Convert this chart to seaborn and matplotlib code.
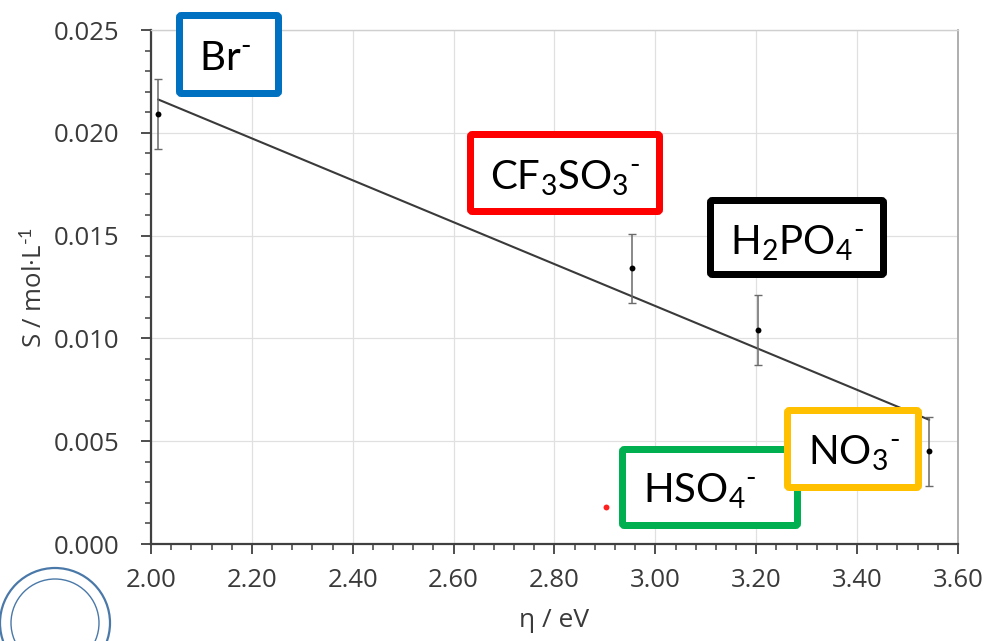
import numpy as np
import pandas as pd
import seaborn as sns
import matplotlib
matplotlib.use("Agg")
import matplotlib.pyplot as plt
from matplotlib.patches import FancyBboxPatch, Circle
from matplotlib.ticker import MultipleLocator, FormatStrFormatter

# Hardness (eV) and solubility (mol/L) of the anion series
anions = ["Br-", "CF3SO3-", "H2PO4-", "NO3-"]
eta = [2.014, 2.954, 3.204, 3.543]
solubility = [0.0209, 0.0134, 0.0104, 0.0045]
sol_err = [0.0017, 0.0017, 0.0017, 0.0017]

# HSO4- point, kept out of the fit
hso4_eta = [2.903]
hso4_sol = [0.0018]

# Box labels: text, edge colour
labels = [
    (r"Br${}^{\text{-}}$", "#0070C0"),
    (r"CF${}_{3}$SO${}_{3}{}^{\text{-}}$", "#FF0000"),
    (r"H${}_{2}$PO${}_{4}{}^{\text{-}}$", "#000000"),
    (r"HSO${}_{4}{}^{\text{-}}$", "#00B050"),
    (r"NO${}_{3}{}^{\text{-}}$", "#FFC000"),
]

df = pd.DataFrame({"eta": eta, "S": solubility, "err": sol_err, "anion": anions})

sns.set_theme(style="white")
plt.rcParams["font.family"] = ["Open Sans", "DejaVu Sans"]
plt.rcParams["mathtext.fontset"] = "custom"
plt.rcParams["mathtext.rm"] = "Lato"
plt.rcParams["mathtext.it"] = "Lato:italic"
plt.rcParams["mathtext.bf"] = "Lato:bold"

W, H = 987, 641
fig = plt.figure(figsize=(W / 100, H / 100), dpi=100)
ax = fig.add_axes([151 / W, (H - 544) / H, (958 - 151) / W, (544 - 30) / H])

# Linear fit through the four anions
sns.regplot(data=df, x="eta", y="S", scatter=False, ci=None, truncate=True,
            line_kws=dict(color="#3a3a3a", lw=1.5, zorder=3), ax=ax)

ax.errorbar(df["eta"], df["S"], yerr=df["err"], fmt="none", ecolor="#6a6a6a",
            elinewidth=1.1, capsize=3, capthick=1.0, zorder=4)
sns.scatterplot(data=df, x="eta", y="S", color="black", s=18, linewidth=0,
                ax=ax, zorder=5)
sns.scatterplot(x=hso4_eta, y=hso4_sol, color="#ff2020", s=18, linewidth=0,
                ax=ax, zorder=5)

ax.set_xlim(2.0, 3.6)
ax.set_ylim(0.0, 0.025)
ax.xaxis.set_major_locator(MultipleLocator(0.2))
ax.xaxis.set_minor_locator(MultipleLocator(0.04))
ax.yaxis.set_major_locator(MultipleLocator(0.005))
ax.yaxis.set_minor_locator(MultipleLocator(0.001))
ax.xaxis.set_major_formatter(FormatStrFormatter("%.2f"))
ax.yaxis.set_major_formatter(FormatStrFormatter("%.3f"))

ax.grid(True, which="major", color="#e0e0e0", lw=0.9)
ax.set_axisbelow(True)

for side in ("left", "bottom"):
    ax.spines[side].set_color("#404040")
    ax.spines[side].set_linewidth(1.6)
ax.spines["right"].set_color("#a8a8a8")
ax.spines["right"].set_linewidth(1.3)
ax.spines["top"].set_color("#cfcfcf")
ax.spines["top"].set_linewidth(1.0)

ax.tick_params(which="major", direction="out", length=7.5, width=1.3,
               color="#404040", labelsize=18.5, labelcolor="#3a3a3a")
ax.tick_params(which="minor", direction="out", length=4.5, width=1.1,
               color="#404040")
ax.tick_params(axis="y", which="both", left=True, right=False)
ax.tick_params(axis="x", which="both", bottom=True, top=False)
ax.tick_params(axis="y", which="major", pad=15)
ax.tick_params(axis="x", which="major", pad=10)

ax.set_xlabel(r"η / eV", fontsize=19, color="#3a3a3a")
ax.set_ylabel(r"S / mol·L$^{\text{-1}}$", fontsize=18.5, color="#3a3a3a")
ax.xaxis.set_label_coords(0.5, -0.125)
ax.yaxis.set_label_coords(-0.128, 0.5)

# Coloured label boxes, placed in figure pixels
inch = fig.dpi_scale_trans
boxes = [
    (176, 12, 282, 97, 199, 70),
    (467, 131, 663, 215, 490, 190),
    (707, 197, 887, 278, 730, 255),
    (619, 446, 801, 529, 643, 503),
    (784, 407, 922, 491, 808, 465),
]
lw_px = 7
for (txt, col), (x0, y0, x1, y1, tx, ty) in zip(labels, boxes):
    h = lw_px / 2
    patch = FancyBboxPatch(((x0 + h) / 100, (H - y1 + h) / 100),
                           (x1 - x0 - 2 * h) / 100, (y1 - y0 - 2 * h) / 100,
                           boxstyle="round,pad=0,rounding_size=0.02",
                           transform=inch, facecolor="white", edgecolor=col,
                           linewidth=lw_px * 0.72, zorder=6)
    fig.add_artist(patch)
    fig.text(tx / 100, (H - ty) / 100, txt, transform=inch, fontsize=29,
             ha="left", va="baseline", color="black", zorder=7,
             family=["Lato", "DejaVu Sans"])

# University seal outline in the lower-left corner
for r, lw in ((0.55, 1.6), (0.44, 1.0)):
    fig.add_artist(Circle((0.55, (H - 623) / 100), r, transform=inch,
                          fill=False, edgecolor="#4a78a8", linewidth=lw,
                          zorder=2))

fig.savefig("out.png", dpi=100)
